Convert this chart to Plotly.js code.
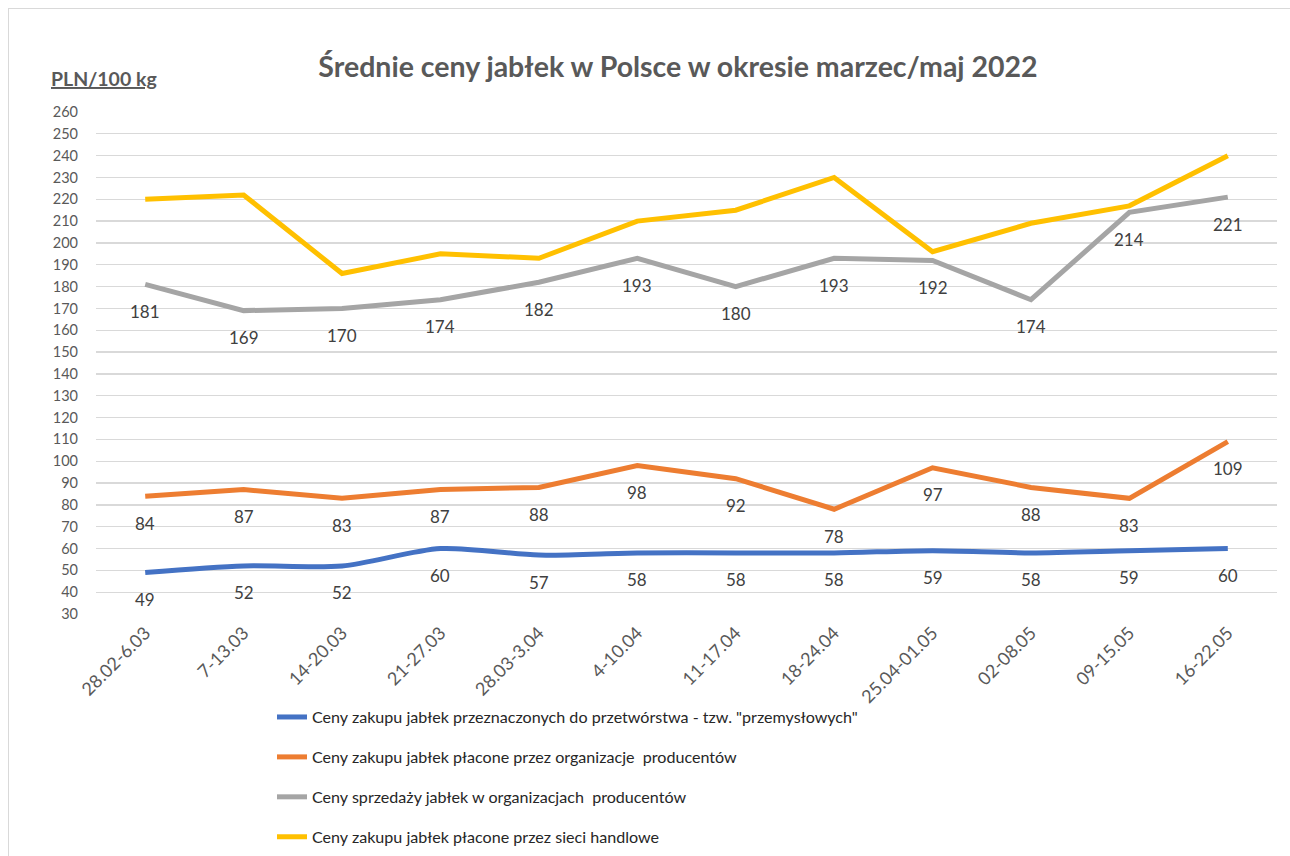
<!DOCTYPE html>
<html>
<head>
<meta charset="utf-8">
<script src="https://cdn.plot.ly/plotly-3.0.1.min.js"></script>
<style>
html,body{margin:0;padding:0;background:#fff;}
#chart{width:1290px;height:856px;position:relative;}
#frame{position:absolute;left:8px;top:8px;width:1300px;height:900px;border:1px solid #d9d9d9;pointer-events:none;}
</style>
</head>
<body>
<div id="chart"></div>
<div id="frame"></div>
<script>
const categories = ["28.02-6.03","7-13.03","14-20.03","21-27.03","28.03-3.04","4-10.04","11-17.04","18-24.04","25.04-01.05","02-08.05","09-15.05","16-22.05"];
const przemyslowe = [49,52,52,60,57,58,58,58,59,58,59,60];
const organizacjeZakup = [84,87,83,87,88,98,92,78,97,88,83,109];
const organizacjeSprzedaz = [181,169,170,174,182,193,180,193,192,174,214,221];
const sieciHandlowe = [220,222,186,195,193,210,215,230,196,209,217,240];

const names = [
  'Ceny zakupu jabłek przeznaczonych do przetwórstwa - tzw. "przemysłowych"',
  'Ceny zakupu jabłek płacone przez organizacje  producentów',
  'Ceny sprzedaży jabłek w organizacjach  producentów',
  'Ceny zakupu jabłek płacone przez sieci handlowe'
];
const colors = ['#4472C4','#ED7D31','#A5A5A5','#FFC000'];
const series = [przemyslowe, organizacjeZakup, organizacjeSprzedaz, sieciHandlowe];
const shapes = ['spline','linear','linear','linear'];
const labelled = [true,true,true,false];

const traces = series.map((ys,i)=>({
  type:'scatter', mode:'lines', x:categories, y:ys, name:names[i],
  line:{color:colors[i], width:5, shape:shapes[i], smoothing:0.8},
  legendgroup:'g'+i, hoverinfo:'skip'
}));

const annotations = [];
series.forEach((ys,i)=>{
  if(!labelled[i]) return;
  ys.forEach((v,j)=>{
    annotations.push({x:categories[j], y:v, xref:'x', yref:'y', text:String(v), showarrow:false,
      yshift:-27, font:{family:'Lato, sans-serif', size:17, color:'#404040'}});
  });
});
annotations.push({xref:'paper', yref:'paper', x:(49-96)/1181, y:(614-78)/502, xanchor:'left', yanchor:'middle',
  text:'<b><u>PLN/100 kg</u></b>', showarrow:false, font:{family:'Lato, sans-serif', size:19.5, color:'#595959'}});

const layout = {
  width:1290, height:856,
  margin:{l:96, r:13, t:112, b:242, pad:0, autoexpand:false},
  paper_bgcolor:'rgba(0,0,0,0)', plot_bgcolor:'rgba(0,0,0,0)',
  title:{text:'<b>Średnie ceny jabłek w Polsce w okresie marzec/maj 2022</b>', x:678/1290, xanchor:'center', y:1-67/856, yanchor:'middle',
    font:{family:'Lato, sans-serif', size:28.5, color:'#595959'}},
  xaxis:{type:'category', categoryarray:categories, range:[-0.5,11.5], showgrid:false, zeroline:false, showline:false,
    tickangle:-45, ticks:'', ticklen:0, ticklabelstandoff:4, automargin:false,
    tickfont:{family:'Lato, sans-serif', size:18, color:'#595959'}},
  yaxis:{range:[30,260], dtick:10, tick0:30, showgrid:true, gridcolor:'#d9d9d9', gridwidth:1.3, zeroline:false, showline:false,
    ticks:'', ticklabelstandoff:17, automargin:false,
    tickfont:{family:'Lato, sans-serif', size:14.5, color:'#595959'}},
  showlegend:true,
  legend:{orientation:'v', x:(272-96)/1181, xanchor:'left', y:(614-700)/502, yanchor:'top',
    traceorder:'grouped', tracegroupgap:16, bgcolor:'rgba(0,0,0,0)',
    font:{family:'Lato, sans-serif', size:16.1, color:'#262626'}},
  annotations:annotations
};

Plotly.newPlot('chart', traces, layout, {displayModeBar:false, staticPlot:true});
</script>
</body>
</html>
